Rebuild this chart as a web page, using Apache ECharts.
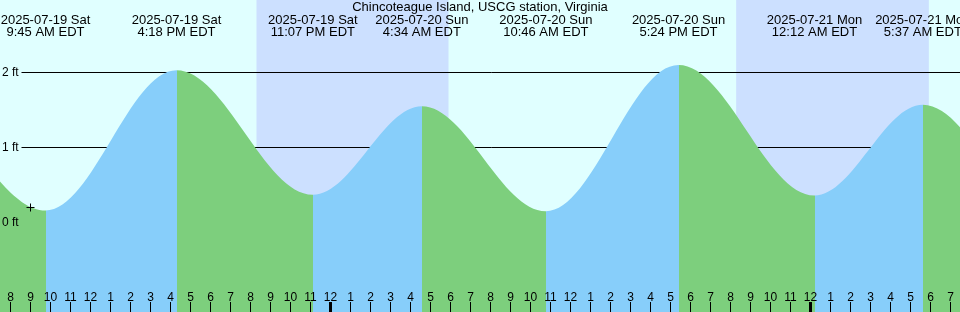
<!DOCTYPE html>
<html>
<head>
<meta charset="utf-8">
<script src="https://cdn.jsdelivr.net/npm/echarts@6/dist/echarts.min.js"></script>
<style>
html,body{margin:0;padding:0;background:#e0ffff;}
#chart{width:960px;height:312px;}
</style>
</head>
<body>
<div id="chart"></div>
<script>
const titleText = 'Chincoteague Island, USCG station, Virginia';

// Tide extremes shown on the chart (local time, EDT) and heights in ft
const extremeStamps = ['2025-07-19 09:45', '2025-07-19 16:18', '2025-07-19 23:07', '2025-07-20 04:34',
                       '2025-07-20 10:46', '2025-07-20 17:24', '2025-07-21 00:12', '2025-07-21 05:37'];
const extremeHeights = [0.16, 2.03, 0.37, 1.55, 0.15, 2.10, 0.36, 1.57];
const extremeTypes = ['low', 'high', 'low', 'high', 'low', 'high', 'low', 'high'];
const extremeDateLabels = ['2025-07-19 Sat', '2025-07-19 Sat', '2025-07-19 Sat', '2025-07-20 Sun',
                           '2025-07-20 Sun', '2025-07-20 Sun', '2025-07-21 Mon', '2025-07-21 Mon'];
const extremeTimeLabels = ['9:45 AM EDT', '4:18 PM EDT', '11:07 PM EDT', '4:34 AM EDT',
                           '10:46 AM EDT', '5:24 PM EDT', '12:12 AM EDT', '5:37 AM EDT'];

// Extremes just beyond the left / right edges (estimated from how the curve enters and leaves the frame)
const beforeStamps = ['2025-07-18 22:00', '2025-07-19 03:35'];
const beforeHeights = [0.35, 1.45];
const beforeTypes = ['low', 'high'];
const afterStamps = ['2025-07-21 11:46', '2025-07-21 18:20'];
const afterHeights = [0.15, 2.05];
const afterTypes = ['low', 'high'];

// Night (sunset -> sunrise)
const nightStarts = ['2025-07-19 20:18', '2025-07-20 20:17'];
const nightEnds = ['2025-07-20 05:54', '2025-07-21 05:55'];

// Midnights (thick ticks)
const midnightStamps = ['2025-07-20 00:00', '2025-07-21 00:00'];

// Height reference lines / labels (ft)
const heightTicks = [0, 1, 2];

// Small "+" marker on the curve
const markerStamps = ['2025-07-19 09:00'];
const markerHeights = [0.20];

// ---- helpers ----
const BASE = Date.UTC(2025, 6, 20, 0, 0);
function hours(s) {
  const [d, t] = s.split(' ');
  const [Y, M, D] = d.split('-').map(Number);
  const [h, m] = t.split(':').map(Number);
  return (Date.UTC(Y, M - 1, D, h, m) - BASE) / 3600000;
}

const FONT = "'Liberation Sans', Arial, Helvetica, sans-serif";
const BG = '#e0ffff';
const NIGHT = '#cce0ff';
const RISE = '#87cefa';
const FALL = '#7dcf7d';

const X_MIN = -17, X_MAX = 32;           // hours relative to 2025-07-20 00:00
const Y_MIN = -1.1933, Y_MAX = 2.9667;   // ft
const LINE_START = -15.45;               // reference lines begin right after the "ft" labels

const allHours = [...beforeStamps, ...extremeStamps, ...afterStamps].map(hours);
const allHeights = [...beforeHeights, ...extremeHeights, ...afterHeights];
const allTypes = [...beforeTypes, ...extremeTypes, ...afterTypes];
const extremeHours = extremeStamps.map(hours);

const pieces = [];
pieces.push({ lt: allHours[0], color: allTypes[0] === 'low' ? FALL : RISE });
for (let i = 0; i < allHours.length - 1; i++) {
  pieces.push({ gte: allHours[i], lt: allHours[i + 1], color: allTypes[i] === 'low' ? RISE : FALL });
}
pieces.push({ gte: allHours[allHours.length - 1], color: allTypes[allTypes.length - 1] === 'low' ? RISE : FALL });

function hourLabel(v) {
  const h = ((Math.round(v) % 24) + 24) % 24;
  return String(h % 12 === 0 ? 12 : h % 12);
}
function extremeLabel(v) {
  for (let i = 0; i < extremeHours.length; i++) {
    if (Math.abs(extremeHours[i] - v) < 1e-6) return extremeDateLabels[i] + '\n' + extremeTimeLabels[i];
  }
  return '';
}

const chart = echarts.init(document.getElementById('chart'), null, { renderer: 'canvas' });
chart.setOption({
  animation: false,
  backgroundColor: BG,
  title: {
    text: titleText, left: 'center', top: 1, padding: 0,
    textStyle: { fontSize: 13, fontWeight: 'normal', color: '#000', fontFamily: FONT, lineHeight: 13 }
  },
  grid: { left: -9.5, right: -10.5, top: 0, bottom: 0, containLabel: false, outerBoundsMode: 'none' },
  xAxis: [
    {
      type: 'value', position: 'bottom', min: X_MIN, max: X_MAX, interval: 1, z: 10,
      axisLine: { show: false, onZero: false },
      axisTick: { show: true, inside: true, length: 10, lineStyle: { color: '#000', width: 1 } },
      axisLabel: { inside: true, margin: 8, interval: 0, color: '#000', fontSize: 12, fontFamily: FONT,
                   lineHeight: 12, formatter: hourLabel },
      splitLine: { show: false }
    },
    {
      type: 'value', position: 'bottom', min: X_MIN, max: X_MAX, z: 10,
      axisLine: { show: false, onZero: false },
      axisTick: { show: true, inside: true, length: 10, customValues: midnightStamps.map(hours),
                  lineStyle: { color: '#000', width: 3 } },
      axisLabel: { show: false },
      splitLine: { show: false }
    },
    {
      type: 'value', position: 'top', min: X_MIN, max: X_MAX, z: 10,
      axisLine: { show: false, onZero: false },
      axisTick: { show: false },
      axisLabel: { inside: true, margin: 14, customValues: extremeHours, color: '#000', fontSize: 13,
                   lineHeight: 12, fontFamily: FONT, formatter: extremeLabel },
      splitLine: { show: false }
    }
  ],
  yAxis: {
    type: 'value', min: Y_MIN, max: Y_MAX, z: 10,
    axisLine: { show: false }, axisTick: { show: false }, splitLine: { show: false },
    axisLabel: { inside: true, margin: 11.5, customValues: heightTicks, color: '#000', fontSize: 12,
                 fontFamily: FONT, formatter: v => v + ' ft' }
  },
  visualMap: { type: 'piecewise', show: false, dimension: 0, seriesIndex: 0, pieces: pieces },
  series: [
    {
      type: 'line', xAxisIndex: 0, yAxisIndex: 0, z: 3, silent: true,
      data: allHours.map((x, i) => [x, allHeights[i]]),
      smooth: 0.36, smoothMonotone: 'x', showSymbol: false, symbol: 'none',
      lineStyle: { width: 0, opacity: 0 },
      areaStyle: { opacity: 1, origin: 'start' },
      markArea: {
        z: 1, silent: true,
        itemStyle: { color: NIGHT, opacity: 1, borderWidth: 0 },
        data: nightStarts.map((s, i) => [{ xAxis: hours(s) }, { xAxis: hours(nightEnds[i]) }])
      },
      markLine: {
        z: 2, silent: true, symbol: ['none', 'none'], label: { show: false },
        lineStyle: { color: '#000', width: 1, type: 'solid', opacity: 1 },
        data: heightTicks.map(v => [{ coord: [LINE_START, v] }, { coord: [X_MAX, v] }])
      }
    },
    {
      type: 'scatter', xAxisIndex: 0, yAxisIndex: 0, z: 4, silent: true,
      data: markerStamps.map((s, i) => [hours(s), markerHeights[i]]),
      symbol: 'path://M0,4L8,4M4,0L4,8', symbolSize: 8,
      itemStyle: { color: 'rgba(0,0,0,0)', borderColor: '#000', borderWidth: 1, opacity: 1 }
    }
  ]
});
</script>
</body>
</html>
